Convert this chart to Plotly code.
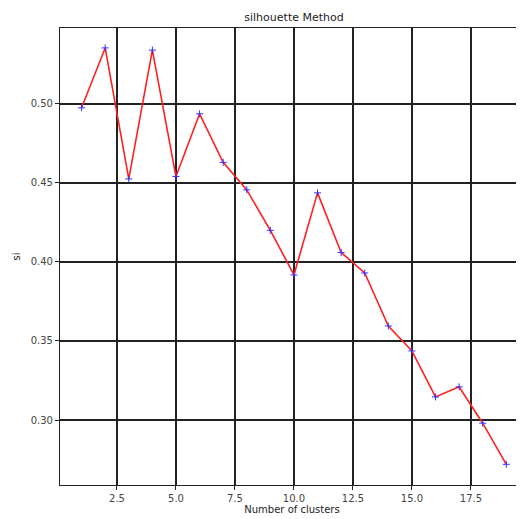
import plotly.graph_objects as go

clusters = list(range(1, 20))
si = [0.4975, 0.5354, 0.4525, 0.534, 0.454, 0.4937, 0.463, 0.4456, 0.420, 0.3918,
      0.4437, 0.406, 0.393, 0.3595, 0.3437, 0.3146, 0.321, 0.298, 0.272]
xticks = [2.5, 5.0, 7.5, 10.0, 12.5, 15.0, 17.5]
yticks = [0.30, 0.35, 0.40, 0.45, 0.50]

fig = go.Figure()
fig.add_trace(go.Scatter(x=clusters, y=si, mode="lines",
                         line=dict(color="#ff2020", width=1.6), showlegend=False))
fig.add_trace(go.Scatter(x=clusters, y=si, mode="markers",
                         marker=dict(symbol="cross-thin", size=5,
                                     line=dict(color="#3030ff", width=1)),
                         showlegend=False))

fig.update_layout(
    width=516, height=511,
    margin=dict(l=52, r=0, t=20, b=34, autoexpand=False),
    paper_bgcolor="white", plot_bgcolor="white",
    font=dict(family="DejaVu Sans", size=10, color="#444"),
    title=dict(text="silhouette Method", x=(294 - 8) / 516, xanchor="center",
               y=1 - 9/511, yanchor="middle", font=dict(size=11, color="#222")),
)
fig.update_xaxes(range=[0.085, 19.75], tickvals=xticks,
                 ticktext=[f"{v:.1f}" for v in xticks],
                 showgrid=True, gridcolor="#222", gridwidth=1.5,
                 showline=True, linecolor="#222", linewidth=1.2, mirror=True,
                 ticks="outside", ticklen=4, tickcolor="#222", zeroline=False,
                 automargin=False,
                 title=dict(text="Number of clusters", standoff=2, font=dict(size=10, color="#222")))
fig.update_yaxes(range=[0.2589, 0.548], tickvals=yticks,
                 ticktext=[f"{v:.2f}" for v in yticks],
                 showgrid=True, gridcolor="#222", gridwidth=1.5,
                 showline=True, linecolor="#222", linewidth=1.2, mirror=False,
                 ticks="outside", ticklen=4, tickcolor="#222", zeroline=False,
                 automargin=False,
                 title=dict(text="si", standoff=8, font=dict(size=10, color="#222")))

fig.write_html("out.html")
